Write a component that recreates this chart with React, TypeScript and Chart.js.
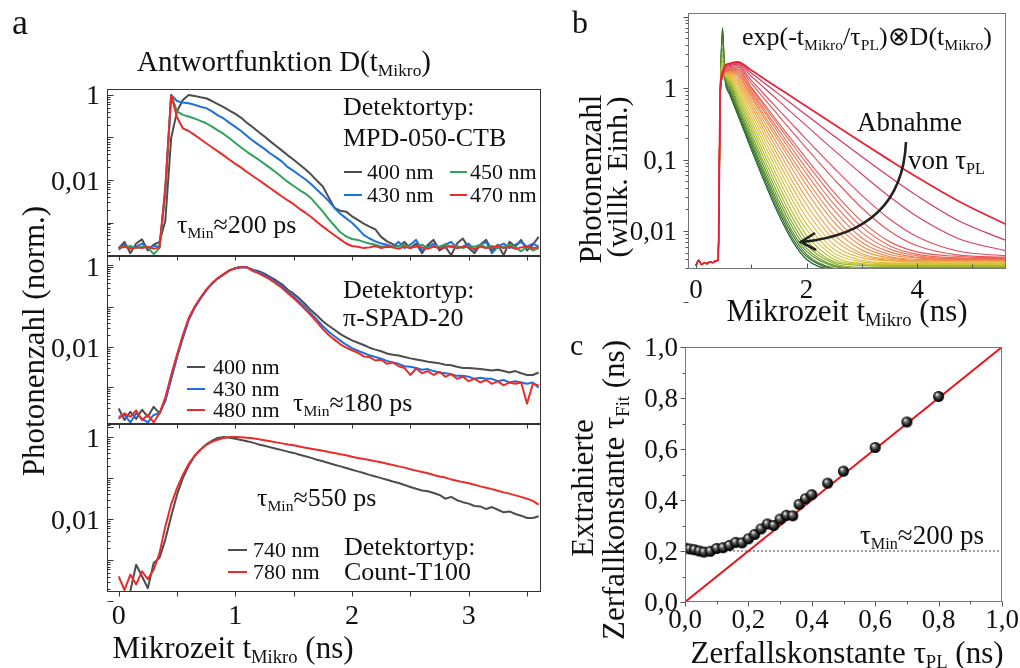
import React, { useEffect, useRef } from "react";
import { Chart, registerables } from "chart.js";

Chart.register(...registerables);

const W = 1020;
const H = 668;
const SERIF = '"Liberation Serif", "Times New Roman", serif';

// ---------- Panel a: detector response functions (normalised photon counts) ----------
const T_A = [0,0.05,0.1,0.15,0.2,0.25,0.3,0.35,0.4,0.45,0.5,0.55,0.6,0.65,0.7,0.75,0.8,0.85,0.9,0.95,1,1.05,1.1,1.15,1.2,1.25,1.3,1.35,1.4,1.45,1.5,1.55,1.6,1.65,1.7,1.75,1.8,1.85,1.9,1.95,2,2.05,2.1,2.15,2.2,2.25,2.3,2.35,2.4,2.45,2.5,2.55,2.6,2.65,2.7,2.75,2.8,2.85,2.9,2.95,3,3.05,3.1,3.15,3.2,3.25,3.3,3.35,3.4,3.45,3.5,3.55,3.6];

// MPD-050-CTB
const MPD_400 = [2.5e-4,3.5e-4,1.9e-4,3.2e-4,4.0e-4,2.2e-4,3.0e-4,3.5e-4,
  1.1e-3,0.096,0.41,0.76,1.0,0.95,0.88,0.835,0.72,0.61,0.52,0.43,
  0.36,0.29,0.22,0.174,0.135,0.105,0.081,0.063,0.049,0.038,
  0.030,0.023,0.0178,0.0134,0.0096,0.0070,0.0039,0.0022,0.0019,0.0018,
  0.0014,0.00115,9.4e-4,8.0e-4,6.9e-4,4.6e-4,3.6e-4,3.1e-4,
  2.7e-4,3.5e-4,2.5e-4,3.2e-4,1.9e-4,3.0e-4,3.9e-4,2.2e-4,2.7e-4,1.7e-4,3.2e-4,4.2e-4,2.5e-4,1.9e-4,3.0e-4,3.9e-4,2.2e-4,3.0e-4,1.7e-4,3.5e-4,2.7e-4,3.9e-4,2.2e-4,3.0e-4,4.6e-4];
const MPD_430 = [2.3e-4,3.0e-4,2.5e-4,2.7e-4,3.2e-4,2.5e-4,2.8e-4,2.7e-4,
  0.005,1.0,0.72,0.66,0.64,0.59,0.53,0.49,0.41,0.33,0.28,0.22,
  0.177,0.142,0.108,0.084,0.067,0.054,0.042,0.034,0.027,0.020,
  0.0163,0.0129,0.0104,0.0079,0.0059,0.0044,0.0032,0.0022,0.0016,0.00125,
  9.9e-4,7.2e-4,5.1e-4,4.2e-4,3.6e-4,3.2e-4,3.0e-4,
  2.7e-4,3.5e-4,2.5e-4,3.0e-4,3.9e-4,2.2e-4,2.7e-4,3.2e-4,2.5e-4,3.0e-4,3.5e-4,2.5e-4,2.7e-4,3.2e-4,2.2e-4,3.0e-4,3.5e-4,1.9e-4,2.7e-4,3.2e-4,2.5e-4,3.0e-4,3.5e-4,2.7e-4,3.2e-4,2.7e-4];
const MPD_450 = [2.7e-4,2.6e-4,2.8e-4,2.5e-4,2.7e-4,2.6e-4,1.8e-4,2.5e-4,
  0.006,1.0,0.41,0.34,0.31,0.28,0.245,0.216,0.18,0.147,0.121,0.096,
  0.074,0.058,0.046,0.037,0.030,0.024,0.019,0.015,0.0116,0.0090,
  0.0072,0.0058,0.0048,0.0037,0.0026,0.0018,0.0012,8.4e-4,5.9e-4,4.7e-4,
  4.1e-4,3.9e-4,3.5e-4,3.2e-4,3.0e-4,
  2.7e-4,2.8e-4,2.6e-4,2.8e-4,3.0e-4,2.6e-4,2.7e-4,3.0e-4,2.5e-4,2.8e-4,2.7e-4,3.1e-4,2.6e-4,2.8e-4,2.5e-4,2.8e-4,2.7e-4,3.0e-4,2.6e-4,2.8e-4,2.5e-4,2.7e-4,3.0e-4,2.6e-4,2.1e-4,2.7e-4,2.2e-4,2.5e-4];
const MPD_470 = [2.5e-4,2.7e-4,2.4e-4,2.6e-4,2.5e-4,2.7e-4,2.4e-4,2.6e-4,
  0.007,1.0,0.3,0.164,0.142,0.115,0.092,0.073,0.059,0.047,0.038,0.030,
  0.024,0.0195,0.0154,0.0124,0.0100,0.0080,0.0064,0.0051,0.0041,0.0033,
  0.0027,0.0021,0.0017,0.00135,0.00103,8.0e-4,6.3e-4,5.0e-4,4.0e-4,3.2e-4,
  2.8e-4,
  2.7e-4,2.5e-4,2.6e-4,2.8e-4,2.5e-4,2.7e-4,2.6e-4,2.4e-4,2.7e-4,2.5e-4,2.8e-4,2.6e-4,2.4e-4,2.7e-4,2.5e-4,2.6e-4,2.8e-4,2.5e-4,2.7e-4,2.6e-4,2.4e-4,2.7e-4,2.5e-4,2.6e-4,2.8e-4,2.5e-4,2.7e-4,2.4e-4,2.6e-4,2.7e-4,2.5e-4,2.6e-4];

// π-SPAD-20
const SPAD_400 = [2.9e-4,1.5e-4,2.4e-4,1.6e-4,2.7e-4,1.8e-4,3.2e-4,2.2e-4,
  4.6e-4,1.6e-3,5.6e-3,0.017,0.048,0.096,0.162,0.261,0.383,0.52,0.655,0.82,0.93,1.0,0.98,
  0.86,0.78,0.68,0.56,0.46,0.37,0.27,0.215,0.162,0.117,
  0.0825,0.061,0.044,0.034,0.027,0.021,0.0175,0.0147,0.0128,0.0112,
  0.0096,0.0086,0.0078,0.0069,0.0064,0.0061,0.0056,0.0052,0.0049,0.0046,
  0.0043,0.0041,0.0039,0.0036,0.0035,0.0032,0.0030,0.0030,0.0029,0.0028,
  0.0027,0.0026,0.0027,0.0025,0.0023,0.0025,0.0022,0.0020,0.0020,0.0023];
const SPAD_430 = [1.8e-4,2.0e-4,1.3e-4,2.2e-4,1.6e-4,1.3e-4,2.0e-4,2.2e-4,
  4.6e-4,1.6e-3,5.6e-3,0.017,0.048,0.096,0.162,0.261,0.383,0.52,0.655,0.82,0.93,1.0,0.98,
  0.825,0.74,0.63,0.52,0.41,0.33,0.24,0.185,0.136,0.098,
  0.069,0.048,0.033,0.024,0.0185,0.0144,0.0114,0.0094,0.0081,0.0071,
  0.0062,0.0056,0.0051,0.0045,0.0041,0.0038,0.0033,0.0032,0.0030,0.0027,
  0.0028,0.0025,0.0023,0.0022,0.0021,0.0019,0.0019,0.0018,0.0016,0.0017,
  0.0016,0.0016,0.0014,0.0015,0.0013,0.0014,0.0013,0.0012,0.0013,0.00096];
const SPAD_480 = [1.6e-4,2.2e-4,1.8e-4,2.6e-4,1.5e-4,2.0e-4,1.3e-4,2.2e-4,
  5.5e-4,2.0e-3,6.5e-3,0.02,0.053,0.1,0.17,0.27,0.39,0.53,0.66,0.82,0.93,1.0,0.97,
  0.79,0.69,0.58,0.48,0.383,0.30,0.22,0.165,0.121,0.086,
  0.061,0.042,0.028,0.020,0.0153,0.0117,0.0096,0.0083,0.0072,0.0058,
  0.0056,0.0046,0.0048,0.0038,0.0041,0.0033,0.0030,0.0020,0.0029,0.0022,
  0.0025,0.0020,0.0024,0.0018,0.0021,0.0016,0.0018,0.0014,0.0016,0.0013,
  0.0015,0.0012,0.0014,0.0011,0.0013,0.0012,0.0013,3.8e-4,0.0012,0.0011];

// Count-T100
const CT_740 = [null,null,1.8e-4,7.8e-4,4.1e-4,2.1e-4,8.6e-4,1.15e-3,
  3.2e-3,0.0118,0.0395,0.1,0.2,0.34,0.49,0.66,0.81,0.95,1.0,0.96,
  0.91,0.845,0.785,0.73,0.66,0.615,0.56,0.52,0.48,0.44,
  0.41,0.37,0.34,0.31,0.28,0.256,0.233,0.212,0.193,0.176,
  0.16,0.146,0.133,0.12,0.11,0.1,0.0916,0.083,0.076,0.068,
  0.061,0.055,0.050,0.0477,0.0434,0.039,0.0316,0.035,0.029,0.026,
  0.024,0.021,0.0205,0.0177,0.0198,0.017,0.0147,0.0155,0.0134,0.0122,
  0.0107,0.0107,0.0118];
const CT_780 = [4.1e-4,1.9e-4,4.5e-4,2.6e-4,5.4e-4,3.5e-4,5.9e-4,1.5e-3,
  6.7e-3,0.023,0.057,0.12,0.22,0.35,0.49,0.64,0.76,0.86,0.95,1.0,
  1.0,0.98,0.96,0.93,0.88,0.83,0.785,0.74,0.70,0.66,
  0.63,0.59,0.55,0.52,0.49,0.465,0.43,0.41,0.38,0.36,
  0.33,0.31,0.29,0.275,0.256,0.242,0.224,0.208,0.193,0.18,
  0.164,0.152,0.141,0.131,0.119,0.11,0.103,0.093,0.0866,0.080,
  0.0746,0.069,0.063,0.0585,0.054,0.0495,0.045,0.042,0.038,0.035,
  0.0316,0.028,0.0226];

// ---------- Panel b: simulated decays exp(-t/τPL) ⊗ D(t) ----------
const TB_HEAD = [0, 0.05, 0.1, 0.15, 0.2, 0.25, 0.3, 0.35, 0.4];
const B_BASELINE = [0.0033, 0.0039, 0.0034, 0.0036, 0.0035, 0.0037, 0.0036, 0.0038, 0.0040];
const TB_TAIL = [0.44, 0.48, 0.52, 0.6, 0.75, 1.0, 1.25, 1.5, 1.75, 2.0, 2.5, 3.0, 3.5, 4.0, 4.75, 5.6];

const FAN_000 = [0.9, 7.0, 1.4, 0.84, 0.43, 0.138, 0.046, 0.0166, 0.0071, 0.0040, 0.0028, 0.0026, 0.0026, 0.0026, 0.0026, 0.0026];
const FAN_002 = [0.9, 6.6, 1.45, 0.90, 0.46, 0.152, 0.051, 0.0184, 0.0078, 0.0044, 0.0029, 0.0027, 0.0027, 0.0027, 0.0027, 0.0027];
const FAN_004 = [0.9, 5.8, 1.5, 0.97, 0.50, 0.167, 0.057, 0.0206, 0.0087, 0.0047, 0.0030, 0.0028, 0.0028, 0.0028, 0.0028, 0.0028];
const FAN_006 = [0.9, 4.6, 1.5, 1.04, 0.54, 0.184, 0.063, 0.0231, 0.0096, 0.0052, 0.0032, 0.0029, 0.0029, 0.0029, 0.0029, 0.0029];
const FAN_008 = [0.9, 3.6, 1.5, 1.13, 0.59, 0.205, 0.072, 0.0264, 0.0110, 0.0057, 0.0033, 0.0030, 0.0030, 0.0030, 0.0030, 0.0030];
const FAN_010 = [0.9, 2.9, 1.5, 1.2, 0.65, 0.23, 0.082, 0.0307, 0.0127, 0.0064, 0.0035, 0.0031, 0.0031, 0.0031, 0.0031, 0.0031];
const FAN_012 = [0.9, 2.4, 1.52, 1.26, 0.73, 0.262, 0.096, 0.0363, 0.0150, 0.0074, 0.0037, 0.0033, 0.0032, 0.0032, 0.0032, 0.0032];
const FAN_014 = [0.9, 2.1, 1.55, 1.31, 0.80, 0.299, 0.112, 0.0433, 0.0180, 0.0087, 0.0040, 0.0034, 0.0033, 0.0033, 0.0033, 0.0033];
const FAN_016 = [0.9, 1.9, 1.58, 1.36, 0.89, 0.339, 0.131, 0.0518, 0.0218, 0.0104, 0.0044, 0.0035, 0.0034, 0.0034, 0.0034, 0.0034];
const FAN_018 = [0.9, 1.75, 1.6, 1.41, 0.97, 0.385, 0.153, 0.0622, 0.0265, 0.0125, 0.0049, 0.0037, 0.0035, 0.0035, 0.0035, 0.0035];
const FAN_020 = [0.9, 1.6, 1.6, 1.46, 1.07, 0.436, 0.179, 0.0747, 0.0324, 0.0153, 0.0055, 0.0039, 0.0036, 0.0036, 0.0036, 0.0036];
const FAN_022 = [0.9, 1.5, 1.6, 1.5, 1.16, 0.492, 0.209, 0.0897, 0.0398, 0.0189, 0.0064, 0.0042, 0.0038, 0.0037, 0.0037, 0.0037];
const FAN_024 = [0.9, 1.45, 1.6, 1.55, 1.26, 0.550, 0.241, 0.107, 0.0486, 0.0233, 0.0075, 0.0045, 0.0039, 0.0038, 0.0038, 0.0038];
const FAN_026 = [0.9, 1.42, 1.62, 1.6, 1.35, 0.612, 0.277, 0.127, 0.0591, 0.0287, 0.0088, 0.0048, 0.0040, 0.0038, 0.0038, 0.0038];
const FAN_028 = [0.9, 1.4, 1.64, 1.64, 1.45, 0.678, 0.318, 0.150, 0.0719, 0.0356, 0.0108, 0.0054, 0.0042, 0.0039, 0.0039, 0.0039];
const FAN_030 = [0.9, 1.4, 1.66, 1.68, 1.55, 0.749, 0.362, 0.177, 0.087, 0.0439, 0.0132, 0.0061, 0.0044, 0.0040, 0.0039, 0.0039];
const FAN_032 = [0.9, 1.4, 1.68, 1.72, 1.59, 0.794, 0.396, 0.199, 0.101, 0.052, 0.0158, 0.0069, 0.0047, 0.0042, 0.0040, 0.0040];
const FAN_034 = [0.9, 1.4, 1.7, 1.76, 1.68, 0.863, 0.444, 0.229, 0.119, 0.0629, 0.0194, 0.0080, 0.0051, 0.0043, 0.0040, 0.0040];
const FAN_036 = [0.9, 1.4, 1.72, 1.79, 1.72, 0.912, 0.482, 0.256, 0.137, 0.074, 0.0235, 0.0095, 0.0056, 0.0045, 0.0041, 0.0041];
const FAN_038 = [0.9, 1.4, 1.74, 1.82, 1.81, 0.986, 0.536, 0.292, 0.160, 0.0887, 0.0289, 0.0114, 0.0062, 0.0047, 0.0042, 0.0041];
const FAN_040 = [0.9, 1.4, 1.76, 1.85, 1.85, 1.03, 0.575, 0.321, 0.181, 0.102, 0.0345, 0.0136, 0.0071, 0.0051, 0.0044, 0.0042];
const FAN_045 = [0.9, 1.42, 1.8, 1.92, 1.96, 1.16, 0.684, 0.405, 0.240, 0.143, 0.0526, 0.0210, 0.0100, 0.0062, 0.0046, 0.0043];
const FAN_050 = [0.9, 1.45, 1.85, 1.98, 2.06, 1.28, 0.792, 0.491, 0.305, 0.190, 0.0755, 0.0315, 0.0147, 0.0083, 0.0052, 0.0045];
const FAN_060 = [0.9, 1.5, 1.9, 2.05, 2.16, 1.46, 0.978, 0.655, 0.439, 0.295, 0.134, 0.0623, 0.0302, 0.0159, 0.0078, 0.0053];
const FAN_070 = [0.95, 1.6, 1.98, 2.11, 2.24, 1.62, 1.15, 0.821, 0.584, 0.416, 0.212, 0.109, 0.0572, 0.0310, 0.0139, 0.0074];
const FAN_080 = [1.0, 1.7, 2.05, 2.2, 2.31, 1.77, 1.32, 0.988, 0.737, 0.550, 0.308, 0.173, 0.0980, 0.0564, 0.0260, 0.0124];

const FAN_CURVES = [FAN_000, FAN_002, FAN_004, FAN_006, FAN_008, FAN_010, FAN_012, FAN_014, FAN_016, FAN_018,
  FAN_020, FAN_022, FAN_024, FAN_026, FAN_028, FAN_030, FAN_032, FAN_034, FAN_036, FAN_038,
  FAN_040, FAN_045, FAN_050, FAN_060, FAN_070, FAN_080];
const FAN_COLORS = ["#1b5e2a", "#2b6b26", "#3f7a22", "#568a20", "#6d9a20", "#86a822", "#9eb426", "#b4bd2c", "#c7c234", "#d6c23a",
  "#e0bd3e", "#e6b540", "#ebab42", "#eea044", "#f09646", "#f08c4a", "#ef834e", "#ee7a52", "#ec7156", "#ea6858",
  "#e85f5a", "#e4555c", "#df4a5e", "#d93e5e", "#d5345c", "#e62436"];

// ---------- Panel c: extracted vs. true decay constant ----------
const TAU_PL = [0, 0.015, 0.03, 0.045, 0.06, 0.08, 0.1, 0.12, 0.14, 0.16, 0.18, 0.2, 0.22, 0.24, 0.26, 0.28, 0.3, 0.32, 0.34, 0.36, 0.38, 0.4, 0.45, 0.5, 0.6, 0.7, 0.8];
const TAU_FIT = [0.212, 0.208, 0.205, 0.200, 0.196, 0.199, 0.210, 0.213, 0.222, 0.234, 0.232, 0.248, 0.265, 0.287, 0.306, 0.300, 0.325, 0.340, 0.338, 0.383, 0.405, 0.421, 0.466, 0.513, 0.606, 0.706, 0.806];
const IDENTITY = [0, 1];
const TAU_MIN = 0.2;

// ---------- tick definitions ----------
const A_DECADES = [1e-4, 1e-3, 1e-2, 1e-1, 1];
const A_YLABELS: [number, string][] = [[1, "1"], [0.01, "0,01"]];
const A_XMAJOR = [0, 1, 2, 3];
const A_XMINOR = [0.5, 1.5, 2.5, 3.5];
const A_XLABELS: [number, string][] = [[0, "0"], [1, "1"], [2, "2"], [3, "3"]];

const B_DECADES = [1e-3, 1e-2, 1e-1, 1, 10];
const B_YLABELS: [number, string][] = [[1, "1"], [0.1, "0,1"], [0.01, "0,01"]];
const B_XMAJOR = [0, 2, 4];
const B_XMINOR = [1, 3, 5];
const B_XLABELS: [number, string][] = [[0, "0"], [2, "2"], [4, "4"]];

const C_MAJOR = [0, 0.2, 0.4, 0.6, 0.8, 1.0];
const C_MINOR = [0.1, 0.3, 0.5, 0.7, 0.9];
const C_LABELS: [number, string][] = [[0, "0,0"], [0.2, "0,2"], [0.4, "0,4"], [0.6, "0,6"], [0.8, "0,8"], [1.0, "1,0"]];

const C_GRAY = "#4d4d4d";
const C_BLUE = "#1f6fdc";
const C_GREEN = "#2fa25c";
const C_RED = "#ec2b2b";

function logMinor(decades: number[], lo: number, hi: number) {
  const out: number[] = [];
  decades.forEach((d) => {
    for (let k = 2; k <= 9; k++) {
      const v = d * k;
      if (v > lo && v < hi) out.push(v);
    }
  });
  return out;
}

function axesPlugin(spec: any) {
  return {
    id: "frameAxes",
    afterDatasetsDraw(chart: any) {
      const { ctx, chartArea: a, scales } = chart;
      const xs = scales.x;
      const ys = scales.y;
      ctx.save();
      ctx.lineWidth = 1;
      ctx.strokeStyle = spec.tick;
      const L = Math.round(a.left) + 0.5;
      const B = Math.round(a.bottom) - 0.5;
      const tickY = (v: number, len: number) => {
        const p = Math.round(ys.getPixelForValue(v)) + 0.5;
        ctx.beginPath();
        ctx.moveTo(L, p);
        ctx.lineTo(L + (spec.yIn ? len : -len), p);
        ctx.stroke();
      };
      const tickX = (v: number, len: number) => {
        const p = Math.round(xs.getPixelForValue(v)) + 0.5;
        ctx.beginPath();
        ctx.moveTo(p, B);
        ctx.lineTo(p, B + (spec.xIn ? -len : len));
        ctx.stroke();
      };
      spec.yMajor.forEach((v: number) => tickY(v, spec.yLen[0]));
      spec.yMinor.forEach((v: number) => tickY(v, spec.yLen[1]));
      spec.xMajor.forEach((v: number) => tickX(v, spec.xLen[0]));
      spec.xMinor.forEach((v: number) => tickX(v, spec.xLen[1]));

      ctx.strokeStyle = spec.frame;
      ctx.strokeRect(L, Math.round(a.top) + 0.5, Math.round(a.right) - Math.round(a.left) - 1, Math.round(a.bottom) - Math.round(a.top) - 1);

      ctx.fillStyle = "#111";
      ctx.font = `${spec.font}px ${SERIF}`;
      ctx.textBaseline = "alphabetic";
      ctx.textAlign = "right";
      (spec.yLabels || []).forEach(([v, t]: [number, string]) => {
        ctx.fillText(t, spec.yLabelRight, ys.getPixelForValue(v) + spec.font * 0.34);
      });
      ctx.textAlign = "center";
      (spec.xLabels || []).forEach(([v, t]: [number, string]) => {
        ctx.fillText(t, xs.getPixelForValue(v), spec.xLabelY + spec.font * 0.34);
      });
      ctx.restore();
    },
  };
}

function makeChart(canvas: HTMLCanvasElement, o: any) {
  const [l, t, r, b] = o.rect;
  return new Chart(canvas, {
    type: "line",
    data: { datasets: o.datasets },
    options: {
      responsive: false,
      animation: false,
      events: [],
      layout: { padding: { left: l, top: t, right: W - r, bottom: H - b } },
      plugins: { legend: { display: false }, tooltip: { enabled: false } },
      elements: { point: { radius: 0 } },
      scales: {
        x: { type: "linear", min: o.x[0], max: o.x[1], display: false },
        y: { type: o.ylog ? "logarithmic" : "linear", min: o.y[0], max: o.y[1], display: false },
      },
    } as any,
    plugins: [axesPlugin(o.axes)],
  });
}

function series(xs: number[], ys: (number | null)[]) {
  const pts: { x: number; y: number }[] = [];
  xs.forEach((x, i) => {
    const y = ys[i];
    if (y !== null && y !== undefined) pts.push({ x, y });
  });
  return pts;
}

function lineDs(data: any[], color: string, width = 2, extra: any = {}) {
  return { data, borderColor: color, borderWidth: width, pointRadius: 0, fill: false, borderJoinStyle: "round", ...extra };
}

function sphere(r: number) {
  const c = document.createElement("canvas");
  c.width = c.height = Math.ceil(2 * r + 2);
  const g = c.getContext("2d")!;
  const m = c.width / 2;
  const grad = g.createRadialGradient(m - r * 0.35, m - r * 0.4, r * 0.08, m, m, r);
  grad.addColorStop(0, "#f0f0f0");
  grad.addColorStop(0.3, "#6a6a6a");
  grad.addColorStop(0.75, "#111");
  grad.addColorStop(1, "#000");
  g.fillStyle = grad;
  g.beginPath();
  g.arc(m, m, r, 0, Math.PI * 2);
  g.fill();
  return c;
}

const Sub = ({ children }: any) => (
  <span style={{ fontSize: "0.6em", verticalAlign: "-0.32em", lineHeight: 0 }}>{children}</span>
);

function Label({ x, y, size, anchor = "left", rotate = false, children }: any) {
  const tx = anchor === "left" ? "0" : anchor === "right" ? "-100%" : "-50%";
  return (
    <div
      style={{
        position: "absolute",
        left: x,
        top: y,
        fontSize: size,
        lineHeight: 1,
        whiteSpace: "nowrap",
        fontFamily: SERIF,
        color: "#111",
        transform: rotate ? "translate(-50%, -50%) rotate(-90deg)" : `translate(${tx}, -50%)`,
      }}
    >
      {children}
    </div>
  );
}

function Bar({ x1, x2, y, color }: any) {
  return <div style={{ position: "absolute", left: x1, top: y - 1.25, width: x2 - x1, height: 2.5, background: color }} />;
}

export default function App() {
  const rA1 = useRef<HTMLCanvasElement>(null);
  const rA2 = useRef<HTMLCanvasElement>(null);
  const rA3 = useRef<HTMLCanvasElement>(null);
  const rB = useRef<HTMLCanvasElement>(null);
  const rC = useRef<HTMLCanvasElement>(null);

  useEffect(() => {
    const aX = [-0.1, 3.62];
    const aAxes = (ylo: number, yhi: number, withLabels: boolean) => ({
      frame: "#333", tick: "#333",
      yMajor: A_DECADES, yMinor: logMinor(A_DECADES, ylo, yhi), yIn: true, yLen: [6, 3],
      xMajor: A_XMAJOR, xMinor: A_XMINOR, xIn: false, xLen: [5, 5],
      yLabels: A_YLABELS, yLabelRight: 100,
      xLabels: withLabels ? A_XLABELS : [], xLabelY: 614,
      font: 28,
    });

    const a1 = makeChart(rA1.current!, {
      rect: [107, 89, 541, 256], x: aX, y: [1.63e-4, 1.38], ylog: true,
      axes: aAxes(1.63e-4, 1.38, false),
      datasets: [
        lineDs(series(T_A, MPD_470), C_RED),
        lineDs(series(T_A, MPD_450), C_GREEN),
        lineDs(series(T_A, MPD_430), C_BLUE),
        lineDs(series(T_A, MPD_400), C_GRAY),
      ],
    });
    const a2 = makeChart(rA2.current!, {
      rect: [107, 256, 541, 424], x: aX, y: [1.19e-4, 1.88], ylog: true,
      axes: aAxes(1.19e-4, 1.88, false),
      datasets: [
        lineDs(series(T_A, SPAD_480), C_RED),
        lineDs(series(T_A, SPAD_430), C_BLUE),
        lineDs(series(T_A, SPAD_400), C_GRAY),
      ],
    });
    const a3 = makeChart(rA3.current!, {
      rect: [107, 424, 541, 592], x: aX, y: [1.7e-4, 2.07], ylog: true,
      axes: aAxes(1.7e-4, 2.07, true),
      datasets: [
        lineDs(series(T_A, CT_780), C_RED),
        lineDs(series(T_A, CT_740), C_GRAY),
      ],
    });

    const tB = TB_HEAD.concat(TB_TAIL);
    const fanSets = FAN_CURVES.map((tail, i) => {
      const last = i === FAN_CURVES.length - 1;
      return lineDs(series(tB, B_BASELINE.concat(tail)), FAN_COLORS[i], last ? 1.8 : 1.15, { cubicInterpolationMode: "monotone" });
    }).reverse();
    const b = makeChart(rB.current!, {
      rect: [688, 13, 1006, 269], x: [-0.145, 5.606], y: [0.00294, 11.2], ylog: true,
      axes: {
        frame: "#777", tick: "#555",
        yMajor: B_DECADES, yMinor: logMinor(B_DECADES, 0.00294, 11.2), yIn: false, yLen: [5, 3],
        xMajor: B_XMAJOR, xMinor: B_XMINOR, xIn: true, xLen: [5, 4],
        yLabels: B_YLABELS, yLabelRight: 677,
        xLabels: B_XLABELS, xLabelY: 289,
        font: 27,
      },
      datasets: fanSets,
    });

    const ball = sphere(5.5);
    const c = makeChart(rC.current!, {
      rect: [685, 347, 1002, 602], x: [0, 1], y: [0, 1], ylog: false,
      axes: {
        frame: "#777", tick: "#555",
        yMajor: C_MAJOR, yMinor: C_MINOR, yIn: false, yLen: [5, 3],
        xMajor: C_MAJOR, xMinor: C_MINOR, xIn: false, xLen: [5, 3],
        yLabels: C_LABELS, yLabelRight: 678,
        xLabels: C_LABELS, xLabelY: 619,
        font: 27,
      },
      datasets: [
        { data: series(TAU_PL, TAU_FIT), showLine: false, pointStyle: ball, pointRadius: 6, borderColor: "#000", backgroundColor: "#000" },
        lineDs(series(IDENTITY, IDENTITY), "#e8141c", 2),
        lineDs(series(IDENTITY, [TAU_MIN, TAU_MIN]), "#444", 1, { borderDash: [2, 2] }),
      ],
    });

    return () => {
      [a1, a2, a3, b, c].forEach((ch) => ch.destroy());
    };
  }, []);

  const cv = { position: "absolute" as const, left: 0, top: 0, width: W, height: H };

  return (
    <div style={{ position: "fixed", left: 0, top: 0, width: W, height: H, background: "#fff", overflow: "hidden", fontFamily: SERIF }}>
      <canvas ref={rA1} width={W} height={H} style={cv} />
      <canvas ref={rA2} width={W} height={H} style={cv} />
      <canvas ref={rA3} width={W} height={H} style={cv} />
      <canvas ref={rB} width={W} height={H} style={cv} />
      <canvas ref={rC} width={W} height={H} style={cv} />

      <svg width={W} height={H} style={{ position: "absolute", left: 0, top: 0, pointerEvents: "none" }}>
        <path d="M 906 142 Q 902 232 802 242" fill="none" stroke="#222" strokeWidth={2.6} />
        <path d="M 815 233 L 801 242 L 816 250" fill="none" stroke="#222" strokeWidth={2.6} strokeLinejoin="miter" />
      </svg>

      {/* panel a */}
      <Label x={12} y={22} size={36}>a</Label>
      <Label x={284} y={61} size={29} anchor="center">Antwortfunktion D(t<Sub>Mikro</Sub>)</Label>
      <Label x={33} y={341} size={31} rotate>Photonenzahl (norm.)</Label>
      <Label x={233} y={647} size={31} anchor="center">Mikrozeit t<Sub>Mikro</Sub> (ns)</Label>

      <Label x={343} y={107} size={26}>Detektortyp:</Label>
      <Label x={343} y={138} size={26}>MPD-050-CTB</Label>
      <Bar x1={344} x2={362} y={172} color={C_GRAY} />
      <Label x={367} y={172} size={22}>400 nm</Label>
      <Bar x1={450} x2={467} y={172} color={C_GREEN} />
      <Label x={470} y={172} size={22}>450 nm</Label>
      <Bar x1={344} x2={362} y={195} color={C_BLUE} />
      <Label x={367} y={195} size={22}>430 nm</Label>
      <Bar x1={450} x2={467} y={195} color={C_RED} />
      <Label x={470} y={195} size={22}>470 nm</Label>
      <Label x={177} y={225} size={26}>τ<Sub>Min</Sub>≈200 ps</Label>

      <Label x={343} y={290} size={26}>Detektortyp:</Label>
      <Label x={343} y={318} size={26}>π-SPAD-20</Label>
      <Bar x1={187} x2={205} y={367} color={C_GRAY} />
      <Label x={213} y={367} size={22}>400 nm</Label>
      <Bar x1={187} x2={205} y={389} color={C_BLUE} />
      <Label x={213} y={389} size={22}>430 nm</Label>
      <Bar x1={187} x2={205} y={410} color={C_RED} />
      <Label x={213} y={410} size={22}>480 nm</Label>
      <Label x={293} y={403} size={26}>τ<Sub>Min</Sub>≈180 ps</Label>

      <Label x={257} y={498} size={26}>τ<Sub>Min</Sub>≈550 ps</Label>
      <Bar x1={228} x2={247} y={550} color={C_GRAY} />
      <Label x={253} y={550} size={22}>740 nm</Label>
      <Bar x1={228} x2={247} y={572} color={C_RED} />
      <Label x={253} y={572} size={22}>780 nm</Label>
      <Label x={344} y={547} size={26}>Detektortyp:</Label>
      <Label x={344} y={572} size={26}>Count-T100</Label>

      {/* panel b */}
      <Label x={572} y={22} size={32}>b</Label>
      <Label x={742} y={37} size={26}>
        exp(-t<Sub>Mikro</Sub>/τ<Sub>PL</Sub>)⊗D(t<Sub>Mikro</Sub>)
      </Label>
      <Label x={857} y={122} size={27}>Abnahme</Label>
      <Label x={908} y={160} size={27}>von τ<Sub>PL</Sub></Label>
      <Label x={590} y={179} size={31} rotate>Photonenzahl</Label>
      <Label x={617} y={177} size={30} rotate>(willk. Einh.)</Label>
      <Label x={847} y={310} size={31} anchor="center">Mikrozeit t<Sub>Mikro</Sub> (ns)</Label>

      {/* panel c */}
      <Label x={570} y={345} size={30}>c</Label>
      <Label x={582} y={488} size={31} rotate>Extrahierte</Label>
      <Label x={613} y={490} size={31} rotate>Zerfallkonstante τ<Sub>Fit</Sub> (ns)</Label>
      <Label x={847} y={652} size={31} anchor="center">Zerfallskonstante τ<Sub>PL</Sub> (ns)</Label>
      <Label x={860} y={535} size={27}>τ<Sub>Min</Sub>≈200 ps</Label>
    </div>
  );
}
